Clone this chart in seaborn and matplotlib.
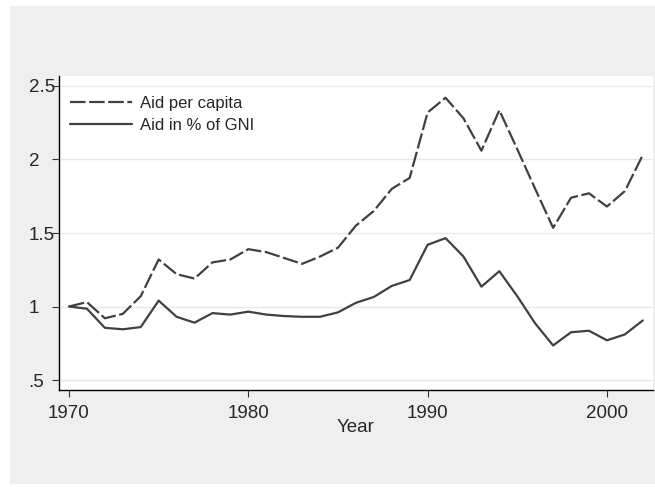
import numpy as np
import pandas as pd
import matplotlib
matplotlib.use('Agg')
import matplotlib.pyplot as plt
import seaborn as sns
from matplotlib.patches import Rectangle

# Data (index, 1970 = 1)
years = list(range(1970, 2003))
aid_per_capita = [1.00, 1.03, 0.92, 0.95, 1.07, 1.32, 1.22, 1.19, 1.30, 1.32,
                  1.39, 1.37, 1.33, 1.29, 1.34, 1.40, 1.55, 1.65, 1.80, 1.875,
                  2.32, 2.42, 2.28, 2.06, 2.335, 2.07, 1.80, 1.535, 1.74, 1.77,
                  1.68, 1.785, 2.03]
aid_pct_gni = [1.00, 0.985, 0.855, 0.845, 0.86, 1.04, 0.93, 0.89, 0.955, 0.945,
               0.965, 0.945, 0.935, 0.93, 0.93, 0.96, 1.025, 1.065, 1.14, 1.18,
               1.42, 1.465, 1.34, 1.135, 1.24, 1.07, 0.885, 0.735, 0.825, 0.835,
               0.77, 0.81, 0.905]
series_names = ['Aid per capita', 'Aid in % of GNI']

df = pd.DataFrame({
    'Year': years * 2,
    'value': aid_per_capita + aid_pct_gni,
    'series': [series_names[0]] * len(years) + [series_names[1]] * len(years),
})

sns.set_style("white")
plt.rcParams['font.family'] = ['Liberation Sans', 'DejaVu Sans']

fig = plt.figure(figsize=(6.55, 4.87), dpi=100)
fig.patch.set_facecolor('white')
# Stata-like gray outer region
fig.patches.append(Rectangle((10 / 655, 1 - 484 / 487), 645 / 655, 478 / 487,
                             transform=fig.transFigure, facecolor='#efefef',
                             edgecolor='none', zorder=-10))

ax = fig.add_axes([58.6 / 655, 97 / 487, (653 - 58.6) / 655, 314 / 487])
ax.set_facecolor('white')

line_col = '#404040'
sns.lineplot(data=df, x='Year', y='value', hue='series', style='series',
             palette={series_names[0]: line_col, series_names[1]: line_col},
             dashes={series_names[0]: (7, 1.6), series_names[1]: ''},
             linewidth=1.6, ax=ax)

ax.set_xlim(1969.42, 2002.57)
ax.set_ylim(0.432, 2.568)
ax.set_xticks([1970, 1980, 1990, 2000])
ax.set_yticks([0.5, 1, 1.5, 2, 2.5])
ax.set_yticklabels(['.5', '1', '1.5', '2', '2.5'])
ax.grid(axis='y', color='#e8e8e8', linewidth=1.0)
ax.set_axisbelow(True)

for s in ['top', 'right']:
    ax.spines[s].set_visible(False)
for s in ['left', 'bottom']:
    ax.spines[s].set_color('black')
    ax.spines[s].set_linewidth(1.0)

ax.tick_params(axis='both', direction='out', length=5, width=0.8, color='#333333',
               labelsize=13.5, left=True, bottom=True)
ax.tick_params(axis='x', pad=6)
# Stata-style y labels: left aligned at a fixed column
ax.tick_params(axis='y', pad=16.5)
for lab in ax.get_yticklabels():
    lab.set_horizontalalignment('left')
ax.set_xlabel('Year', fontsize=13.5, labelpad=-2)
ax.set_ylabel('')

leg = ax.legend(loc='upper left', frameon=False, fontsize=12, handlelength=3.7,
                handletextpad=0.5, labelspacing=0.45, borderaxespad=0.3,
                bbox_to_anchor=(0.0, 0.975))
for h in leg.get_lines():
    h.set_linewidth(1.6)

fig.savefig('out.png', dpi=100, facecolor='white')
